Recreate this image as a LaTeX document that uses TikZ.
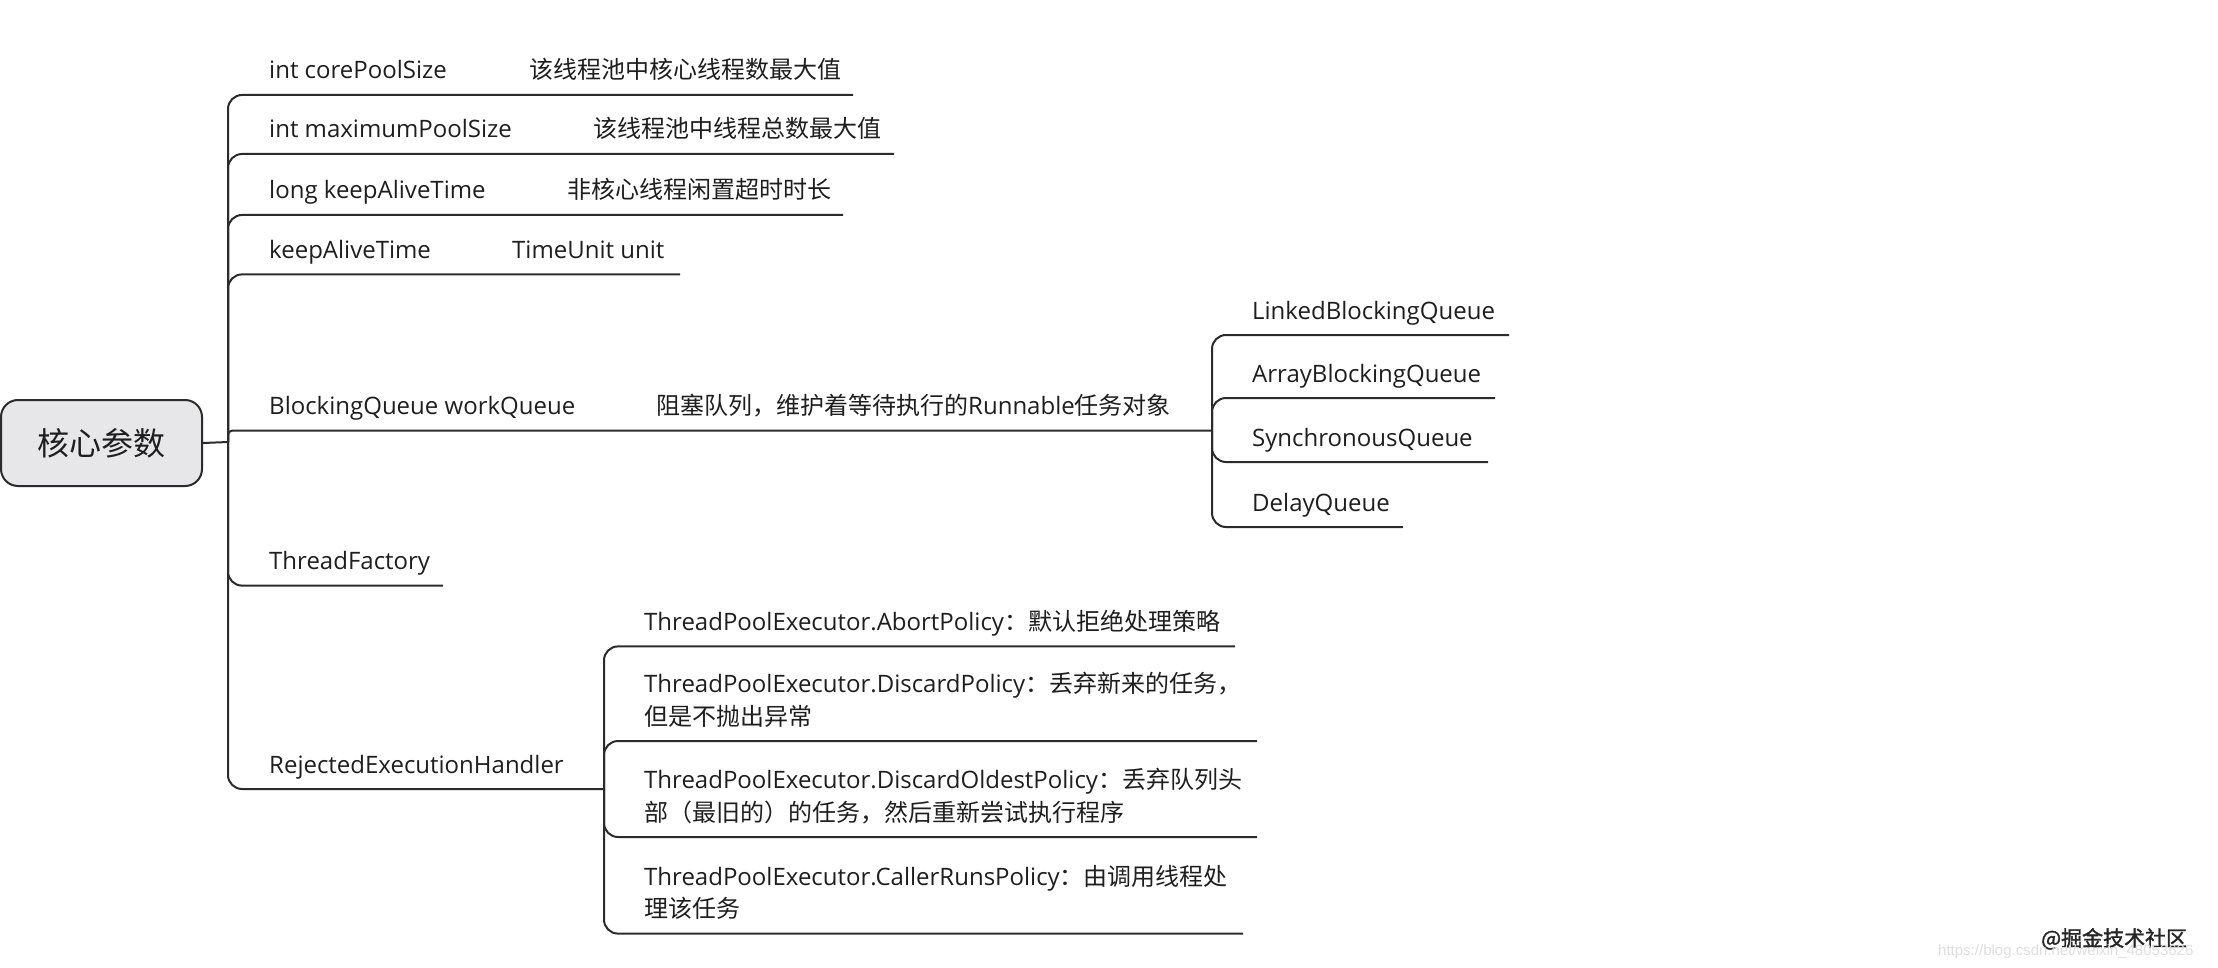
\documentclass[tikz,border=0pt]{standalone}
\usepackage{fontspec}
\setmainfont{Open Sans}
\newfontfamily\cjk{Noto Sans CJK SC}
\newfontfamily\cjkbold{Noto Sans CJK SC}[FakeBold=1.6]
\newfontfamily\urlfont{Liberation Sans}
\newcommand\zh[1]{{\cjk #1}}
\definecolor{ln}{HTML}{2B2B2B}
\definecolor{txt}{HTML}{1E1E1E}
\definecolor{rootfill}{HTML}{E7E7E9}
\tikzset{
  lbl/.style={anchor=base west, inner sep=0pt, text=txt, align=left,
              font=\fontsize{24}{32.5}\selectfont},
  conn/.style={draw=ln, line width=2pt, rounded corners=14pt},
  rootbox/.style={draw=ln, line width=2pt, fill=rootfill, rounded corners=17pt,
              minimum width=201pt, minimum height=86pt, inner sep=0pt, text=txt,
              font=\cjk\fontsize{32}{36}\selectfont},
}
\begin{document}
\begin{tikzpicture}[x=1pt,y=-1pt]
\useasboundingbox (0,0) rectangle (2218,968);
% root
\node[rootbox] (root) at (101.5,443) {核心参数};
\coordinate (J) at (228,442);
\draw[conn] (root.east) -- (J);
% main branches: labels
\node[lbl] (n1) at (269,79) {int corePoolSize};
\node[lbl] (d1) at (529,79) {\zh{该线程池中核心线程数最大值}};
\node[lbl] (n2) at (269,138) {int maximumPoolSize};
\node[lbl] (d2) at (593,138) {\zh{该线程池中线程总数最大值}};
\node[lbl] (n3) at (269,199) {long keepAliveTime};
\node[lbl] (d3) at (567,199) {\zh{非核心线程闲置超时时长}};
\node[lbl] (n4) at (269,258.4) {keepAliveTime};
\node[lbl] (d4) at (512,258.4) {TimeUnit unit};
\node[lbl] (n5) at (269,414.7) {BlockingQueue workQueue};
\node[lbl] (d5) at (656,414.7) {\zh{阻塞队列，维护着等待执行的}Runnable\zh{任务对象}};
\node[lbl] (n6) at (269,569.6) {ThreadFactory};
\node[lbl] (n7) at (269,773) {RejectedExecutionHandler};
% main branch underline ends
\coordinate (e1) at (853,95);
\coordinate (e2) at (894,154);
\coordinate (e3) at (843,215);
\coordinate (e4) at (680,274.4);
\coordinate (SJ) at (1212,430.7);
\coordinate (e6) at (443,585.6);
\coordinate (SJ2) at (604,789);
\draw[conn] (J) |- (e1);
\draw[conn] (J) |- (e2);
\draw[conn] (J) |- (e3);
\draw[conn] (J) |- (e4);
\draw[conn, rounded corners=4pt] (J) |- (SJ);
\draw[conn] (J) |- (e6);
\draw[conn] (J) |- (SJ2);
% queue sub-branches
\node[lbl] (q1) at (1252,319) {LinkedBlockingQueue};
\node[lbl] (q2) at (1252,382) {ArrayBlockingQueue};
\node[lbl] (q3) at (1252,446) {SynchronousQueue};
\node[lbl] (q4) at (1252,511) {DelayQueue};
\coordinate (qe1) at (1509,335);
\coordinate (qe2) at (1495,398);
\coordinate (qe3) at (1488,462);
\coordinate (qe4) at (1403,527);
\draw[conn] (SJ) |- (qe1);
\draw[conn] (SJ) |- (qe2);
\draw[conn] (SJ) |- (qe3);
\draw[conn] (SJ) |- (qe4);
% rejection policies (base = last line)
\node[lbl] (p1) at (644,630.4) {ThreadPoolExecutor.AbortPolicy\zh{：默认拒绝处理策略}};
\node[lbl] (p2) at (644,725) {ThreadPoolExecutor.DiscardPolicy\zh{：丢弃新来的任务，}\\\zh{但是不抛出异常}};
\node[lbl] (p3) at (644,821) {ThreadPoolExecutor.DiscardOldestPolicy\zh{：丢弃队列头}\\\zh{部（最旧的）的任务，然后重新尝试执行程序}};
\node[lbl] (p4) at (644,917.6) {ThreadPoolExecutor.CallerRunsPolicy\zh{：由调用线程处}\\\zh{理该任务}};
\coordinate (pe1) at (1235,646.4);
\coordinate (pe2) at (1257,741);
\coordinate (pe3) at (1257,837);
\coordinate (pe4) at (1243,933.6);
\draw[conn] (SJ2) |- (pe1);
\draw[conn] (SJ2) |- (pe2);
\draw[conn] (SJ2) |- (pe3);
\draw[conn] (SJ2) |- (pe4);
% watermarks
\node[anchor=base west, inner sep=0pt, text=black!85, font=\cjkbold\fontsize{21}{24}\selectfont] (wm1) at (2041,946) {@掘金技术社区};
\node[anchor=base west, inner sep=0pt, text=black!13, font=\urlfont\fontsize{15}{18}\selectfont] (wm2) at (1938,955) {https://blog.csdn.net/weixin\_48053626};
\end{tikzpicture}
\end{document}
